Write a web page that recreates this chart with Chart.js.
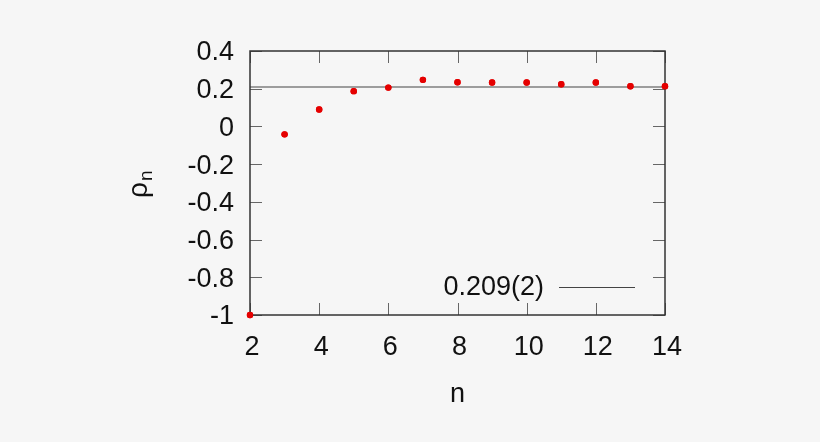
<!DOCTYPE html>
<html>
<head>
<meta charset="utf-8">
<script src="https://cdn.jsdelivr.net/npm/chart.js@4.4.1/dist/chart.umd.min.js"></script>
<style>
  html, body { margin: 0; padding: 0; background: #f6f6f6; }
  #wrap { width: 820px; height: 442px; }
</style>
</head>
<body>
<div id="wrap"><canvas id="rho"></canvas></div>
<script>
// values
const nValues = [2, 3, 4, 5, 6, 7, 8, 9, 10, 11, 12, 13, 14];
const rhoValues = [-1.0, -0.042, 0.09, 0.187, 0.206, 0.247, 0.234, 0.233, 0.233, 0.224, 0.233, 0.213, 0.213];
const fitValue = 0.209;
const fitLabel = '0.209(2)';
const xTicks = [2, 4, 6, 8, 10, 12, 14];
const yTicks = [-1, -0.8, -0.6, -0.4, -0.2, 0, 0.2, 0.4];

const FONT = "'Liberation Sans', Arial, sans-serif";

// gnuplot-like frame with inward ticks on all four sides, axis titles and key
const framePlugin = {
  id: 'frame',
  afterDatasetsDraw(chart) {
    const { ctx, chartArea: a, scales: { x, y } } = chart;
    ctx.save();
    ctx.strokeStyle = '#666';
    ctx.lineWidth = 1;
    const len = 12;
    ctx.beginPath();
    xTicks.forEach(v => {
      const px = Math.round(x.getPixelForValue(v)) + 0.5;
      ctx.moveTo(px, a.bottom); ctx.lineTo(px, a.bottom - len);
      ctx.moveTo(px, a.top); ctx.lineTo(px, a.top + len);
    });
    yTicks.forEach(v => {
      const py = Math.round(y.getPixelForValue(v)) + 0.5;
      ctx.moveTo(a.left, py); ctx.lineTo(a.left + len, py);
      ctx.moveTo(a.right, py); ctx.lineTo(a.right - len, py);
    });
    ctx.stroke();
    ctx.strokeStyle = '#333';
    ctx.lineWidth = 1.5;
    ctx.strokeRect(a.left, a.top, a.right - a.left, a.bottom - a.top);
    ctx.restore();

    // points again on top of the frame
    chart.getDatasetMeta(0).controller.draw();
  },
  afterDraw(chart) {
    const { ctx, chartArea: a } = chart;
    ctx.save();
    ctx.fillStyle = '#111';
    // x axis title
    ctx.font = '27px ' + FONT;
    ctx.textAlign = 'center';
    ctx.textBaseline = 'alphabetic';
    ctx.fillText('n', (a.left + a.right) / 2, 402);
    // y axis title: rho with subscript n
    ctx.translate(147, 198);
    ctx.rotate(-Math.PI / 2);
    ctx.textAlign = 'left';
    ctx.font = '28px ' + FONT;
    ctx.fillText('ρ', 0, 0);
    const w = ctx.measureText('ρ').width;
    ctx.font = '19px ' + FONT;
    ctx.fillText('n', w + 1, 5);
    ctx.restore();

    // key in the lower right corner
    const ds = chart.data.datasets[1];
    ctx.save();
    ctx.font = '27px ' + FONT;
    ctx.fillStyle = '#111';
    ctx.textAlign = 'right';
    ctx.textBaseline = 'middle';
    ctx.fillText(ds.label, 544, 288);
    ctx.strokeStyle = ds.borderColor;
    ctx.lineWidth = 1;
    ctx.beginPath();
    ctx.moveTo(559, 287.5); ctx.lineTo(635, 287.5);
    ctx.stroke();
    ctx.restore();
  }
};

new Chart(document.getElementById('rho'), {
  type: 'scatter',
  data: {
    datasets: [
      {
        label: 'rho_n',
        data: nValues.map((n, i) => ({ x: n, y: rhoValues[i] })),
        backgroundColor: '#e50000',
        borderColor: '#e50000',
        pointRadius: 3.2,
        pointBorderWidth: 0,
        clip: false,
        order: 0
      },
      {
        label: fitLabel,
        type: 'line',
        data: [{ x: 2, y: fitValue }, { x: 14, y: fitValue }],
        borderColor: '#444',
        borderWidth: 1.2,
        pointRadius: 0,
        order: 1
      }
    ]
  },
  options: {
    responsive: true,
    maintainAspectRatio: false,
    animation: false,
    layout: { padding: { top: 51, right: 155, left: 0, bottom: 0 } },
    plugins: {
      legend: { display: false },
      tooltip: { enabled: false }
    },
    scales: {
      x: {
        type: 'linear',
        min: 2,
        max: 14,
        afterFit: s => { s.height = 127; },
        afterBuildTicks: s => { s.ticks = xTicks.map(v => ({ value: v })); },
        grid: { display: false, drawTicks: false },
        border: { display: false },
        ticks: {
          color: '#111',
          padding: 16,
          labelOffset: 2,
          font: { family: FONT, size: 27 },
          maxRotation: 0
        }
      },
      y: {
        min: -1,
        max: 0.4,
        afterFit: s => { s.width = 250; },
        afterBuildTicks: s => { s.ticks = yTicks.map(v => ({ value: v })); },
        grid: { display: false, drawTicks: false },
        border: { display: false },
        ticks: {
          color: '#111',
          padding: 16,
          labelOffset: 2,
          font: { family: FONT, size: 27 },
          callback: v => String(Math.round(v * 10) / 10)
        }
      }
    }
  },
  plugins: [framePlugin]
});
</script>
</body>
</html>
